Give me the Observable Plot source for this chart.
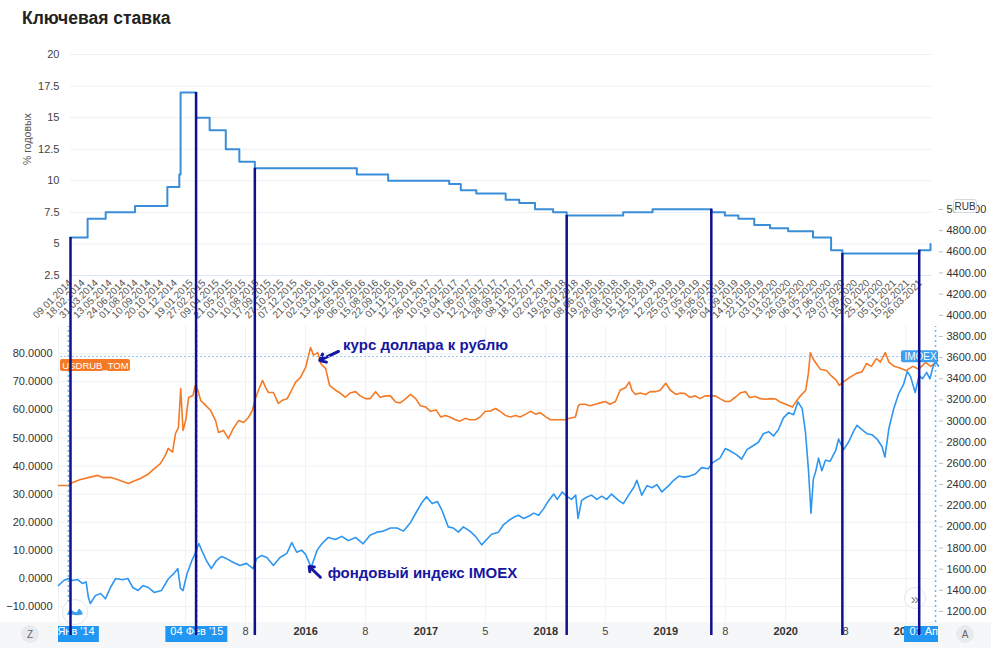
<!DOCTYPE html>
<html><head><meta charset="utf-8">
<script src="https://cdn.jsdelivr.net/npm/d3@7"></script>
<script src="https://cdn.jsdelivr.net/npm/@observablehq/plot@0.6"></script>
<style>
body{margin:0;background:#fff;font-family:"Liberation Sans",Arial,sans-serif;}
#wrap{position:relative;width:991px;height:648px;overflow:hidden;background:#fff;}
.abs{position:absolute;}
.circ{position:absolute;border-radius:50%;display:flex;align-items:center;justify-content:center;box-sizing:border-box;}
</style></head><body><div id="wrap"></div>
<script>
// ---------------- DATA ----------------
const title = "Ключевая ставка";
const rateAxisLabel = "% годовых";
const rateDates = ["2014-01-09","2014-03-03","2014-04-28","2014-07-28","2014-11-05","2014-12-12","2014-12-16","2015-02-02","2015-03-16","2015-05-05","2015-06-16","2015-08-03","2016-06-14","2016-09-19","2017-03-27","2017-05-02","2017-06-19","2017-09-18","2017-10-30","2017-12-18","2018-02-12","2018-03-26","2018-09-17","2018-12-17","2019-06-17","2019-07-29","2019-09-09","2019-10-28","2019-12-16","2020-02-10","2020-04-27","2020-06-22","2020-07-27","2021-03-22","2021-04-26"];
const rateValues = [5.5,7,7.5,8,9.5,10.5,17,15,14,12.5,11.5,11,10.5,10,9.75,9.25,9,8.5,8.25,7.75,7.5,7.25,7.5,7.75,7.5,7.25,7,6.5,6.25,6,5.5,4.5,4.25,4.5,5];
const rateAxisTicks = [2.5,5,7.5,10,12.5,15,17.5,20];
const rateTickLabels = ["09.01.2014","18.02.2014","31.03.2014","13.05.2014","24.06.2014","01.08.2014","10.09.2014","20.10.2014","01.12.2014","19.01.2015","27.02.2015","09.04.2015","21.05.2015","01.07.2015","10.08.2015","17.09.2015","27.10.2015","07.12.2015","21.01.2016","02.03.2016","13.04.2016","26.05.2016","06.07.2016","15.08.2016","22.09.2016","01.11.2016","12.12.2016","26.01.2017","10.03.2017","19.04.2017","01.06.2017","12.07.2017","21.08.2017","28.09.2017","08.11.2017","18.12.2017","02.02.2018","19.03.2018","26.04.2018","08.06.2018","19.07.2018","28.08.2018","05.10.2018","15.11.2018","25.12.2018","12.02.2019","25.03.2019","07.05.2019","18.06.2019","26.07.2019","04.09.2019","14.10.2019","22.11.2019","03.01.2020","13.02.2020","26.03.2020","06.05.2020","17.06.2020","29.07.2020","07.09.2020","15.10.2020","25.11.2020","05.01.2021","15.02.2021","26.03.2021"];
// hand-drawn vertical markers (date, key rate where the marker starts)
const markerDates = ["2014-01-09","2015-02-02","2015-08-03","2018-03-26","2019-06-17","2020-07-27","2021-03-22"];
const markerRates = [5.5,17,11,7.25,7.75,4.25,4.5];
const markerBottomRate = -26; // rate-scale value reached at the lower chart's time axis

const rubName = "USDRUB_TOM";
const rubDates = ["2013-12-10","2014-01-09","2014-01-22","2014-02-15","2014-03-11","2014-04-08","2014-04-26","2014-05-17","2014-06-07","2014-07-02","2014-07-11","2014-07-26","2014-08-16","2014-09-07","2014-09-25","2014-10-16","2014-10-31","2014-11-09","2014-11-22","2014-12-01","2014-12-10","2014-12-17","2014-12-24","2015-01-01","2015-01-10","2015-01-23","2015-01-30","2015-02-07","2015-02-16","2015-03-03","2015-03-18","2015-04-02","2015-04-11","2015-04-26","2015-05-11","2015-05-26","2015-06-11","2015-06-26","2015-07-11","2015-07-23","2015-08-01","2015-08-10","2015-08-23","2015-09-01","2015-09-10","2015-09-25","2015-10-10","2015-10-22","2015-11-06","2015-11-16","2015-12-01","2015-12-16","2016-01-01","2016-01-16","2016-01-25","2016-02-07","2016-02-16","2016-03-02","2016-03-14","2016-04-01","2016-04-15","2016-05-01","2016-05-15","2016-06-01","2016-06-15","2016-07-01","2016-07-15","2016-08-01","2016-08-15","2016-09-01","2016-09-15","2016-10-01","2016-10-15","2016-11-01","2016-11-15","2016-12-01","2016-12-15","2017-01-01","2017-01-15","2017-02-01","2017-02-15","2017-03-01","2017-03-15","2017-04-01","2017-04-15","2017-05-01","2017-05-15","2017-06-01","2017-06-15","2017-07-01","2017-07-15","2017-08-01","2017-08-15","2017-09-01","2017-09-15","2017-10-01","2017-10-15","2017-11-01","2017-11-15","2017-12-01","2017-12-15","2018-01-01","2018-01-15","2018-02-01","2018-02-15","2018-03-01","2018-03-15","2018-04-01","2018-04-10","2018-04-15","2018-05-01","2018-05-15","2018-06-01","2018-06-15","2018-07-01","2018-07-15","2018-08-01","2018-08-15","2018-09-01","2018-09-12","2018-09-20","2018-10-01","2018-10-15","2018-11-01","2018-11-15","2018-12-01","2018-12-15","2019-01-01","2019-01-15","2019-02-01","2019-02-15","2019-03-01","2019-03-15","2019-04-01","2019-04-15","2019-05-01","2019-05-15","2019-06-01","2019-06-15","2019-07-01","2019-07-15","2019-08-01","2019-08-15","2019-09-01","2019-09-13","2019-10-01","2019-10-15","2019-11-01","2019-11-15","2019-12-01","2019-12-15","2020-01-01","2020-01-21","2020-02-05","2020-02-15","2020-03-02","2020-03-10","2020-03-16","2020-03-25","2020-04-03","2020-04-15","2020-05-04","2020-05-20","2020-06-03","2020-06-12","2020-06-25","2020-07-13","2020-08-03","2020-08-20","2020-09-03","2020-09-18","2020-10-03","2020-10-15","2020-10-30","2020-11-10","2020-11-26","2020-12-11","2021-01-01","2021-01-22","2021-02-09","2021-03-02","2021-03-17","2021-04-08"];
const rubValues = [33.1,33.1,34.2,35.2,35.9,36.7,35.9,36.0,35.2,34.2,33.8,34.6,35.6,37.0,38.8,40.9,43.8,46.3,45.0,51.6,53.7,67.6,52.7,56.2,64.4,65.1,68.7,67.0,63.3,61.6,59.8,56.2,52.0,52.7,49.8,53.4,56.2,55.5,57.3,59.8,64.0,66.8,70.5,68.0,66.2,66.2,62.3,63.4,64.0,66.2,69.8,71.5,75.1,82.2,79.5,80.4,76.5,74.7,68.7,67.0,66.0,64.5,66.0,66.5,65.0,64.0,64.0,66.5,64.5,65.0,65.0,62.8,62.5,64.0,65.5,64.0,61.5,61.0,59.5,60.0,57.5,58.0,57.5,56.5,56.0,57.0,56.5,56.5,57.5,59.5,59.5,60.5,59.5,58.0,57.5,58.0,57.5,58.5,59.5,58.5,59.0,57.5,56.5,56.5,56.5,56.5,57.0,57.5,61.5,62.0,62.0,61.5,62.0,62.5,63.0,62.0,63.0,67.0,68.0,70.0,67.0,65.5,66.0,65.5,66.5,66.5,67.0,69.5,67.0,65.5,66.0,65.8,64.5,65.0,64.0,65.0,65.0,65.0,64.0,63.0,63.0,64.5,66.0,66.5,64.4,64.8,64.0,63.8,64.0,63.9,62.8,62.0,61.0,63.5,65.0,67.0,73.0,80.4,78.0,76.5,74.5,74.0,72.0,70.5,68.7,70.0,71.5,73.0,73.5,76.5,75.5,78.3,77.0,80.4,77.0,75.5,75.0,74.0,75.5,74.5,76.9,75.5,77.5];
const rubAxisTicks = [-10,0,10,20,30,40,50,60,70,80];

const imoexName = "IMOEX";
const imoexDates = ["2013-12-10","2013-12-26","2014-01-10","2014-01-22","2014-02-06","2014-02-21","2014-03-04","2014-03-11","2014-03-17","2014-04-01","2014-04-17","2014-05-02","2014-05-17","2014-06-02","2014-06-23","2014-07-09","2014-07-24","2014-08-09","2014-08-24","2014-09-09","2014-09-27","2014-10-19","2014-11-10","2014-11-25","2014-12-08","2014-12-16","2014-12-24","2015-01-05","2015-01-20","2015-01-30","2015-02-10","2015-02-20","2015-03-05","2015-03-20","2015-04-05","2015-04-20","2015-05-05","2015-05-25","2015-06-15","2015-07-05","2015-07-25","2015-08-05","2015-08-20","2015-09-05","2015-09-25","2015-10-15","2015-11-05","2015-11-20","2015-12-05","2015-12-20","2016-01-01","2016-01-18","2016-02-05","2016-02-20","2016-03-10","2016-04-01","2016-04-20","2016-05-10","2016-06-01","2016-06-24","2016-07-15","2016-08-05","2016-08-25","2016-09-15","2016-10-05","2016-10-25","2016-11-15","2016-12-05","2016-12-20","2017-01-03","2017-01-20","2017-02-05","2017-02-20","2017-03-10","2017-03-25","2017-04-10","2017-04-25","2017-05-15","2017-06-01","2017-06-20","2017-07-05","2017-07-20","2017-08-10","2017-08-25","2017-09-10","2017-09-25","2017-10-10","2017-10-25","2017-11-10","2017-11-25","2017-12-10","2017-12-25","2018-01-10","2018-01-25","2018-02-05","2018-02-20","2018-03-05","2018-03-20","2018-04-02","2018-04-09","2018-04-20","2018-05-05","2018-05-20","2018-06-05","2018-06-20","2018-07-05","2018-07-20","2018-08-10","2018-08-25","2018-09-10","2018-09-25","2018-10-05","2018-10-20","2018-11-05","2018-11-20","2018-12-05","2018-12-20","2019-01-10","2019-01-25","2019-02-10","2019-02-25","2019-03-15","2019-04-01","2019-04-20","2019-05-10","2019-05-25","2019-06-15","2019-07-01","2019-07-15","2019-08-05","2019-08-20","2019-09-05","2019-09-20","2019-10-10","2019-10-25","2019-11-10","2019-11-25","2019-12-10","2019-12-25","2020-01-10","2020-01-25","2020-02-07","2020-02-20","2020-03-01","2020-03-10","2020-03-18","2020-03-25","2020-04-01","2020-04-10","2020-04-20","2020-05-01","2020-05-15","2020-06-01","2020-06-10","2020-06-25","2020-07-10","2020-07-25","2020-08-05","2020-08-20","2020-09-05","2020-09-20","2020-10-05","2020-10-20","2020-10-29","2020-11-10","2020-11-25","2020-12-10","2020-12-25","2021-01-05","2021-01-15","2021-01-29","2021-02-10","2021-02-20","2021-03-05","2021-03-15","2021-03-25","2021-04-02","2021-04-10"];
const imoexValues = [1446,1493,1512,1493,1502,1465,1480,1332,1276,1350,1370,1320,1427,1512,1500,1512,1427,1398,1445,1427,1380,1398,1512,1555,1606,1420,1398,1555,1682,1750,1843,1770,1682,1606,1682,1720,1700,1665,1635,1655,1606,1700,1730,1710,1635,1710,1750,1852,1760,1780,1740,1616,1780,1843,1900,1880,1910,1870,1900,1840,1920,1950,1960,1990,1990,1960,2040,2150,2230,2285,2220,2240,2150,2000,1990,1950,2000,1960,1910,1830,1880,1930,1950,2020,2060,2090,2110,2080,2100,2130,2110,2170,2250,2310,2260,2330,2290,2260,2300,2080,2250,2280,2300,2260,2290,2260,2310,2250,2220,2300,2370,2440,2300,2390,2370,2400,2330,2390,2440,2480,2470,2480,2500,2560,2550,2610,2650,2740,2720,2680,2640,2730,2760,2800,2880,2900,2860,2920,3030,3080,3060,3180,3120,2900,2550,2130,2450,2520,2650,2530,2630,2620,2720,2830,2730,2800,2900,2960,2920,2880,2870,2830,2760,2660,2930,3120,3260,3350,3470,3420,3270,3430,3400,3460,3400,3520,3560,3520];
const imoexAxisTicks = [1200,1400,1600,1800,2000,2200,2400,2600,2800,3000,3200,3400,3600,3800,4000,4200,4400,4600,4800,5000];
const imoexPriceLine = 3610;
const currencyLabel = "RUB";

const lowerTickDates = ["2015-07-02","2016-01-01","2016-07-01","2017-01-01","2017-07-01","2018-01-01","2018-07-01","2019-01-01","2019-07-01","2020-01-01","2020-07-01","2021-01-01"];
const lowerTickLabels = ["8","2016","8","2017","5","2018","5","2019","8","2020","8","2021"];
const lowerGridDates = ["2013-12-10","2015-01-01","2015-07-02","2016-01-01","2016-07-01","2017-01-01","2017-07-01","2018-01-01","2018-07-01","2019-01-01","2019-07-01","2020-01-01","2020-07-01","2021-01-01"];
const rangeDates = ["2014-01-09","2015-02-04","2021-04-01"];
const rangeLabels = ["09 Янв '14","04 Фев '15","01 Апр '21"];

const noteRub = {text: "курс доллара к рублю", x: "2016-04-24", y: 82.9, ax1: "2016-04-10", ay1: 80.8, ax2: "2016-02-13", ay2: 77.6};
const noteImoex = {text: "фондовый индекс IMOEX", x: "2016-03-08", y: 1562, ax1: "2016-02-15", ay1: 1524, ax2: "2016-01-12", ay2: 1625};

// ---------------- BUILD ----------------
const parse = d3.utcParse("%Y-%m-%d");
const parseRu = d3.utcParse("%d.%m.%Y");
const FONT = '"Liberation Sans", Arial, Helvetica, sans-serif';
const svgStyle = `background:transparent;position:absolute;left:0;top:0;overflow:visible;max-width:none;font-family:${FONT};`;
const NAVY = "#10108c", NOTE = "#1616a0", ORANGE = "#f47a25", BLUE = "#2e96f0", TAG = "#2196f3";
const wrap = document.getElementById("wrap");

const rate = rateDates.map((d, i) => ({date: parse(d), value: rateValues[i]}));
const markers = markerDates.map((d, i) => ({date: parse(d), rate: markerRates[i]}));
const rub = rubDates.map((d, i) => ({date: parse(d), value: rubValues[i]}));
const imoex = imoexDates.map((d, i) => ({date: parse(d), value: imoexValues[i]}));
const lowerTicks = lowerTickDates.map((d, i) => ({date: parse(d), text: lowerTickLabels[i]}));
const ranges = rangeDates.map((d, i) => ({date: parse(d), text: rangeLabels[i]}));

const xDomain = [parse("2013-12-10"), parse("2021-04-10")];
const pxPerMs = (991 - 58 - 53) / (xDomain[1] - xDomain[0]);
const shift = (date, px) => new Date(+date + px / pxPerMs);

// background band under the time axis
const band = document.createElement("div");
band.className = "abs";
band.style.cssText = "left:0;top:622px;width:991px;height:26px;background:#f6f7f9;";
wrap.append(band);

// ---- Lower chart: USDRUB (left axis) ----
const plotA = Plot.plot({
  width: 991, height: 648, marginLeft: 58, marginRight: 53, marginTop: 0, marginBottom: 0,
  style: svgStyle,
  x: {type: "utc", domain: xDomain, axis: null},
  y: {domain: [-24.91, 205.7]},
  marks: [
    Plot.ruleY(rubAxisTicks, {stroke: "#eef1f6"}),
    Plot.ruleX(lowerGridDates.map(parse), {stroke: "#eef1f6", insetBottom: 26}),
    Plot.axisY({ticks: rubAxisTicks, tickFormat: d3.format(".4f"), tickSize: 0, tickPadding: 6, fontSize: 11, fill: "#333", label: null}),
    Plot.line(rub, {x: "date", y: "value", stroke: ORANGE, strokeWidth: 1.6}),
    Plot.ruleX(ranges, {x: "date", stroke: "#74b3ee", strokeDasharray: "2,3", strokeWidth: 1.5, insetBottom: 26}),
    Plot.rect([rubName], {x1: () => shift(xDomain[0], 2), x2: () => shift(xDomain[0], 72), y1: () => 73.7, y2: () => 77.9, fill: ORANGE, rx: 2}),
    Plot.text([rubName], {x: () => shift(xDomain[0], 37), y: () => 75.8, text: d => d, fill: "white", fontSize: 9.5}),
    Plot.text(lowerTicks.filter(d => d.text.length === 4), {x: "date", text: "text", frameAnchor: "bottom", dy: -14, fontSize: 11, fontWeight: "bold", fill: "#333"}),
    Plot.text(lowerTicks.filter(d => d.text.length !== 4), {x: "date", text: "text", frameAnchor: "bottom", dy: -14, fontSize: 11, fill: "#444"}),
    Plot.rect(ranges, {x1: d => shift(d.date, -31), x2: d => shift(d.date, 31), insetTop: 626, insetBottom: 6, fill: TAG, clip: true}),
    Plot.text(ranges, {x: "date", text: "text", frameAnchor: "bottom", dy: -14, fontSize: 11, fill: "white", clip: true}),
    Plot.text([noteRub], {x: d => parse(d.x), y: "y", text: "text", textAnchor: "start", fontSize: 15, fontWeight: "bold", fill: NOTE}),
    Plot.arrow([noteRub], {x1: d => parse(d.ax1), y1: "ay1", x2: d => parse(d.ax2), y2: "ay2", stroke: NOTE, strokeWidth: 3, headLength: 8, headAngle: 80})
  ]
});
wrap.append(plotA);

// ---- Lower chart: IMOEX (right axis) ----
const plotB = Plot.plot({
  width: 991, height: 648, marginLeft: 58, marginRight: 53, marginTop: 209, marginBottom: 37,
  style: svgStyle,
  x: {type: "utc", domain: xDomain, axis: null},
  y: {domain: [1200, 5000]},
  marks: [
    Plot.axisY({anchor: "right", ticks: imoexAxisTicks, tickFormat: d3.format(".2f"), tickSize: 4, tickPadding: 4, fontSize: 11, fill: "#333", stroke: "#b9bec8", label: null}),
    Plot.ruleY([imoexPriceLine], {x1: () => shift(xDomain[0], 2), x2: () => shift(xDomain[1], -37), stroke: "#9cc7f2", strokeDasharray: "2,2"}),
    Plot.line(imoex, {x: "date", y: "value", stroke: BLUE, strokeWidth: 1.6}),
    Plot.rect([imoexName], {x1: () => shift(xDomain[1], -37), x2: () => xDomain[1], y1: () => imoexPriceLine - 58, y2: () => imoexPriceLine + 55, fill: "#3d9ff0", rx: 2}),
    Plot.text([imoexName], {x: () => shift(xDomain[1], -18), y: () => imoexPriceLine, text: d => d, fill: "white", fontSize: 10}),
    Plot.text([noteImoex], {x: d => parse(d.x), y: "y", text: "text", textAnchor: "start", fontSize: 15, fontWeight: "bold", fill: NOTE}),
    Plot.arrow([noteImoex], {x1: d => parse(d.ax1), y1: "ay1", x2: d => parse(d.ax2), y2: "ay2", stroke: NOTE, strokeWidth: 3, headLength: 8, headAngle: 80})
  ]
});
wrap.append(plotB);

// chart chrome
function circle(cx, cy, r, bg, border, html, color, fs) {
  const c = document.createElement("div");
  c.className = "circ";
  c.style.cssText += `left:${cx - r}px;top:${cy - r}px;width:${2*r}px;height:${2*r}px;background:${bg};border:${border};color:${color};font-size:${fs}px;`;
  c.innerHTML = html;
  wrap.append(c);
}
circle(30, 634, 9, "#e8eaee", "none", "Z", "#666", 10);
circle(965, 634, 9, "#e8eaee", "none", "A", "#666", 10);
circle(915, 598, 11, "#fff", "1px solid #e3e6ea", "»", "#777", 15);
circle(75, 612, 13, "#fff", "1px solid #e3e6ea", '<svg width="18" height="10" viewBox="0 0 18 10"><path d="M1 8 Q3 1 7 4 T12 3 T17 7 Q13 9 9 8 T1 8Z" fill="#3d9ff0"/></svg>', "#3d9ff0", 10);

// the key-rate picture is pasted over the lower chart
const cover = document.createElement("div");
cover.className = "abs";
cover.style.cssText = "left:15px;top:0;width:923px;height:326px;background:#fff;";
wrap.append(cover);

// ---- Top chart: key rate ----
const rateX0 = parseRu(rateTickLabels[0]), rateX1 = parseRu(rateTickLabels[rateTickLabels.length - 1]);
const plotC = Plot.plot({
  width: 991, height: 648, marginLeft: 70, marginRight: 71, marginTop: 54, marginBottom: 373,
  style: svgStyle,
  x: {type: "utc", domain: [rateX0, rateX1], axis: null},
  y: {domain: [2.5, 20]},
  marks: [
    Plot.ruleY(rateAxisTicks, {x1: () => rateX0, x2: () => parse("2021-04-30"), stroke: d => d === 2.5 ? "#dbe5f3" : "#edf0f4"}),
    Plot.axisY({ticks: rateAxisTicks, tickFormat: d3.format("~f"), tickSize: 0, tickPadding: 11, fontSize: 11, fill: "#444", label: null}),
    Plot.text([rateAxisLabel], {text: d => d, frameAnchor: "left", dx: -43, rotate: -90, fontSize: 10.5, fill: "#555"}),
    Plot.text(rateTickLabels, {x: d => parseRu(d), text: d => d, frameAnchor: "bottom", rotate: -45, textAnchor: "end", dx: 2, dy: 8, fontSize: 10, fill: "#555"}),
    Plot.line(rate, {x: "date", y: "value", curve: "step-after", stroke: "#3a8ed8", strokeWidth: 2}),
    Plot.ruleX(markers, {x: "date", y1: "rate", y2: () => markerBottomRate, stroke: NAVY, strokeWidth: 2.5})
  ]
});
wrap.append(plotC);

// title
const t = document.createElement("div");
t.className = "abs";
t.style.cssText = "left:22px;top:8px;font-size:17.5px;font-weight:bold;color:#222;";
t.textContent = title;
wrap.append(t);

// currency tag on right scale
const rubTag = document.createElement("div");
rubTag.className = "abs";
rubTag.style.cssText = "left:953px;top:199px;width:24px;height:14px;background:#fff;border:1px solid #d5d9df;border-radius:3px;font-size:10px;color:#333;display:flex;align-items:center;justify-content:center;box-sizing:border-box;";
rubTag.textContent = currencyLabel;
wrap.append(rubTag);
</script></body></html>
